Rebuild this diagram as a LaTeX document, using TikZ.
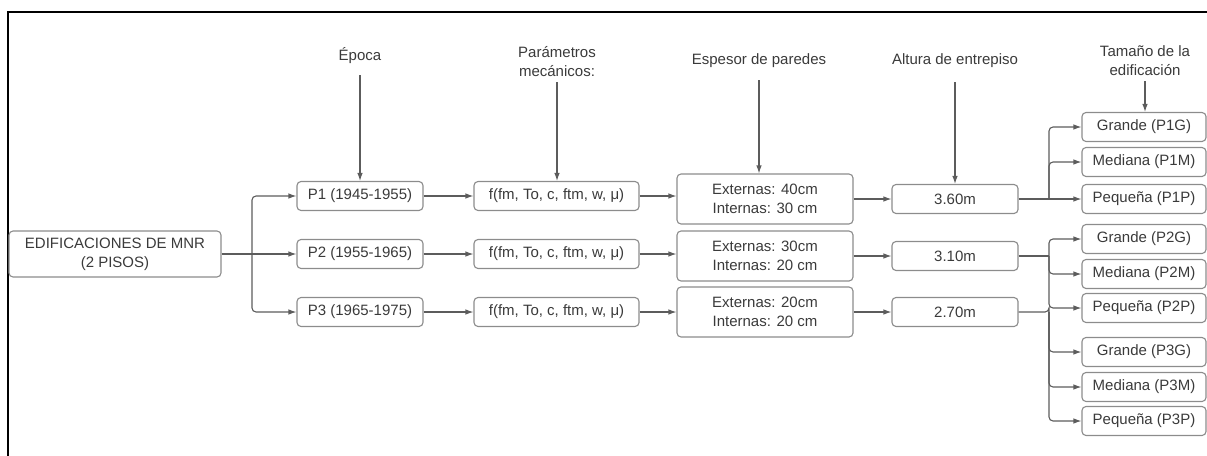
\documentclass[tikz,border=0pt]{standalone}
\usepackage{fontspec}
\setmainfont{Liberation Sans}
\usetikzlibrary{arrows.meta}
\definecolor{txt}{HTML}{3A3A3A}
\definecolor{bord}{HTML}{8C8C8C}
\definecolor{ln}{HTML}{5C5C5C}
\tikzset{
  box/.style={draw=bord, line width=1.1pt, rounded corners=4pt, text=txt, align=center,
    font=\fontsize{15}{19}\selectfont, inner sep=0pt},
  sbox/.style={box, minimum height=29pt},
  lbl/.style={text=txt, align=center, font=\fontsize{15}{19}\selectfont, inner sep=0pt},
  arr/.style={draw=ln, line width=1.1pt, -{Latex[length=8pt,width=5.5pt]}},
  ln/.style={draw=ln, line width=1.1pt},
}
\begin{document}
\begin{tikzpicture}[x=1pt,y=-1pt]
\useasboundingbox (0,0) rectangle (1207,455);
\draw[line width=2pt, black] (8,460) -- (8,12) -- (1215,12);
% root
\node[box, minimum width=212pt, minimum height=46pt] (mnr) at (115,254) {EDIFICACIONES DE MNR\\(2 PISOS)};
% periods
\node[sbox, minimum width=126pt] (p1) at (360,196) {P1 (1945-1955)};
\node[sbox, minimum width=126pt] (p2) at (360,254) {P2 (1955-1965)};
\node[sbox, minimum width=126pt] (p3) at (360,312) {P3 (1965-1975)};
% params
\node[sbox, minimum width=165pt] (f1) at (556.5,196) {f(fm, To, c, ftm, w, μ)};
\node[sbox, minimum width=165pt] (f2) at (556.5,254) {f(fm, To, c, ftm, w, μ)};
\node[sbox, minimum width=165pt] (f3) at (556.5,312) {f(fm, To, c, ftm, w, μ)};
% walls
\node[box, minimum width=176pt, minimum height=50pt] (e1) at (765,199) {Externas: 40cm\\Internas: 30 cm};
\node[box, minimum width=176pt, minimum height=50pt] (e2) at (765,256) {Externas: 30cm\\Internas: 20 cm};
\node[box, minimum width=176pt, minimum height=50pt] (e3) at (765,312) {Externas: 20cm\\Internas: 20 cm};
% heights
\node[sbox, minimum width=126pt] (a1) at (955,199) {3.60m};
\node[sbox, minimum width=126pt] (a2) at (955,256) {3.10m};
\node[sbox, minimum width=126pt] (a3) at (955,312) {2.70m};
% sizes
\node[sbox, minimum width=124pt] (t1g) at (1144,127) {Grande (P1G)};
\node[sbox, minimum width=124pt] (t1m) at (1144,162) {Mediana (P1M)};
\node[sbox, minimum width=124pt] (t1p) at (1144,199) {Pequeña (P1P)};
\node[sbox, minimum width=124pt] (t2g) at (1144,239) {Grande (P2G)};
\node[sbox, minimum width=124pt] (t2m) at (1144,274) {Mediana (P2M)};
\node[sbox, minimum width=124pt] (t2p) at (1144,308) {Pequeña (P2P)};
\node[sbox, minimum width=124pt] (t3g) at (1144,352) {Grande (P3G)};
\node[sbox, minimum width=124pt] (t3m) at (1144,387) {Mediana (P3M)};
\node[sbox, minimum width=124pt] (t3p) at (1144,421) {Pequeña (P3P)};
% labels
\node[lbl] (lep) at (360,56) {Época};
\node[lbl] (lpa) at (557,62) {Parámetros\\mecánicos:};
\node[lbl] (les) at (759,61) {Espesor de paredes};
\node[lbl] (lal) at (955,61) {Altura de entrepiso};
\node[lbl] (lta) at (1145,61) {Tamaño de la\\edificación};
\draw[arr, shorten <=11pt] (lep.south) -- (p1.north);
\draw[arr, shorten <=5pt] (lpa.south) -- (f1.north -| lpa.south);
\draw[arr, shorten <=12pt] (les.south) -- (e1.north -| les.south);
\draw[arr, shorten <=14pt] (lal.south) -- (a1.north);
\draw[arr, shorten <=5pt] (lta.south) -- (t1g.north -| lta.south);
% root branches
\coordinate (b0) at (252,254);
\draw[ln] (mnr.east) -- (b0);
\draw[arr, rounded corners=4pt] (b0) |- (p1.west);
\draw[arr] (b0) -- (p2.west);
\draw[arr, rounded corners=4pt] (b0) |- (p3.west);
% rows
\foreach \i in {1,2,3}{
  \draw[arr] (p\i.east) -- (f\i.west);
  \draw[arr] (f\i.east) -- (e\i.west |- f\i.east);
  \draw[arr] (e\i.east |- a\i.west) -- (a\i.west);
}
% size branches
\coordinate (b1) at (1049,199);
\coordinate (b2) at (1049,256);
\coordinate (b3) at (1049,312);
\draw[arr] (a1.east) -- (t1p.west);
\draw[arr, rounded corners=4pt] (b1) |- (t1g.west);
\draw[arr, rounded corners=4pt] (b1) |- (t1m.west);
\draw[ln] (a2.east) -- (b2);
\draw[arr, rounded corners=4pt] (b2) |- (t2g.west);
\draw[arr, rounded corners=4pt] (b2) |- (t2m.west);
\draw[arr, rounded corners=4pt] (b2) |- (t2p.west);
\draw[ln, rounded corners=4pt] (a3.east) -| (b3);
\draw[arr, rounded corners=4pt] (b3) |- (t3g.west);
\draw[arr, rounded corners=4pt] (b3) |- (t3m.west);
\draw[arr, rounded corners=4pt] (b3) |- (t3p.west);
\end{tikzpicture}
\end{document}
